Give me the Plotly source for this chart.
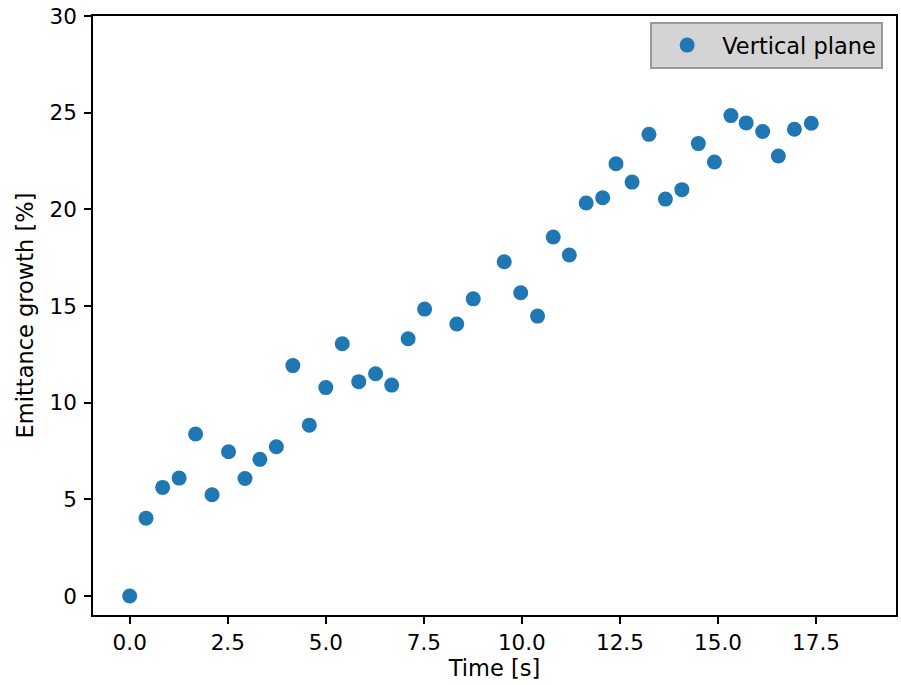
import plotly.graph_objects as go

time_s = [0.0, 0.416, 0.84, 1.26, 1.68, 2.10, 2.52, 2.94, 3.32, 3.74,
          4.16, 4.58, 5.00, 5.42, 5.84, 6.27, 6.68, 7.10, 7.52, 8.34,
          8.76, 9.55, 9.97, 10.40, 10.80, 11.21, 11.64, 12.06, 12.40, 12.81,
          13.24, 13.66, 14.08, 14.50, 14.91, 15.33, 15.72, 16.14, 16.54, 16.95,
          17.38]
growth_pct = [0.0, 4.03, 5.62, 6.10, 8.38, 5.24, 7.46, 6.08, 7.07, 7.72,
              11.92, 8.84, 10.78, 13.05, 11.09, 11.50, 10.91, 13.31, 14.84, 14.07,
              15.37, 17.29, 15.69, 14.48, 18.57, 17.64, 20.33, 20.60, 22.36, 21.41,
              23.88, 20.53, 21.02, 23.40, 22.45, 24.85, 24.47, 24.03, 22.76, 24.14,
              24.45]

x_ticks = [0.0, 2.5, 5.0, 7.5, 10.0, 12.5, 15.0, 17.5]
y_ticks = [0, 5, 10, 15, 20, 25, 30]

FONT = "DejaVu Sans"

fig = go.Figure()
fig.add_trace(go.Scatter(
    x=time_s, y=growth_pct, mode="markers", name="Vertical plane",
    marker=dict(color="#1f77b4", size=15, line=dict(width=0)),
))

axis_common = dict(
    showline=True, linecolor="black", linewidth=1.5, mirror=True,
    ticks="outside", ticklen=7, tickwidth=1.5, tickcolor="black",
    showgrid=False, zeroline=False,
    ticklabeloverflow="allow",
    tickfont=dict(family=FONT, size=21.5, color="black"),
)

fig.update_layout(
    width=901, height=685,
    margin=dict(l=93, r=5, t=16, b=70, autoexpand=False),
    plot_bgcolor="white", paper_bgcolor="white",
    font=dict(family=FONT, color="black"),
    xaxis=dict(range=[-0.936, 19.54], tickvals=x_ticks,
               ticktext=[f"{v:.1f}" for v in x_ticks],
               title=dict(text="Time [s]", font=dict(family=FONT, size=22.5), standoff=6),
               **axis_common),
    yaxis=dict(range=[-0.98, 30], tickvals=y_ticks,
               ticklabelstandoff=3,
               title=dict(text="Emittance growth [%]", font=dict(family=FONT, size=22.5), standoff=10),
               **axis_common),
    showlegend=True,
    legend=dict(x=0.984, y=0.99, xanchor="right", yanchor="top",
                bgcolor="#d4d4d4", bordercolor="#9a9a9a", borderwidth=2,
                font=dict(family=FONT, size=22.5, color="black"),
                itemwidth=60),
)

fig.write_html(
    "out.html",
    config={"displayModeBar": False},
    post_script="document.body.style.margin='0';document.body.style.overflow='hidden';",
)
